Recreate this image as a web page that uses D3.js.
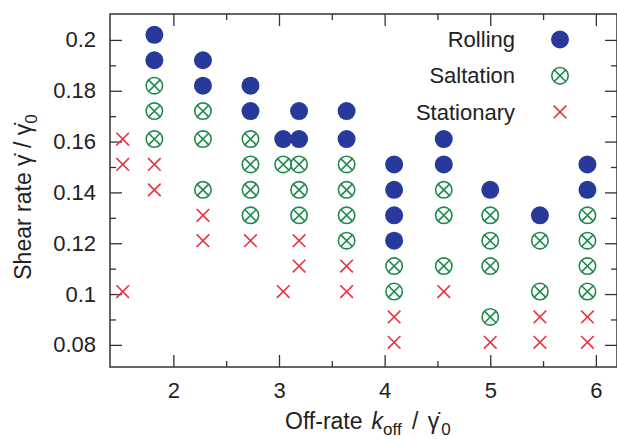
<!DOCTYPE html>
<html>
<head>
<meta charset="utf-8">
<script src="https://cdn.jsdelivr.net/npm/d3@7"></script>
<style>
  body { margin: 0; background: #fff; }
  text { font-family: "Liberation Sans", Arial, sans-serif; fill: #222; }
</style>
</head>
<body>
<div id="graph"></div>
<script>
// off-rate columns (x) and shear rates per column for each regime
const offRate = [1.52, 1.82, 2.28, 2.73, 3.04, 3.19, 3.64, 4.09, 4.56, 5.00, 5.47, 5.92];

const rolling = [
  [], [0.202, 0.192], [0.192, 0.182], [0.182, 0.172], [0.161], [0.172, 0.161],
  [0.172, 0.161], [0.151, 0.141, 0.131, 0.121], [0.161, 0.151], [0.141], [0.131], [0.151, 0.141]
];
const saltation = [
  [], [0.182, 0.172, 0.161], [0.172, 0.161, 0.141], [0.161, 0.151, 0.141, 0.131], [0.151],
  [0.151, 0.141, 0.131], [0.151, 0.141, 0.131, 0.121], [0.111, 0.101], [0.141, 0.131, 0.111],
  [0.131, 0.121, 0.111, 0.091], [0.121, 0.101], [0.131, 0.121, 0.111, 0.101]
];
const stationary = [
  [0.161, 0.151, 0.101], [0.151, 0.141], [0.131, 0.121], [0.121], [0.101], [0.121, 0.111],
  [0.111, 0.101], [0.091, 0.081], [0.101], [0.081], [0.091, 0.081], [0.091, 0.081]
];

const xTicks = [2, 3, 4, 5, 6];
const xMinor = [2.5, 3.5, 4.5, 5.5];
const yTicks = [0.08, 0.1, 0.12, 0.14, 0.16, 0.18, 0.2];
const yMinor = [0.09, 0.11, 0.13, 0.15, 0.17, 0.19];
const legendLabels = ["Rolling", "Saltation", "Stationary"];

const W = 617, H = 439;
const mLeft = 110, mRight = 617, mTop = 14, mBottom = 367;

const svg = d3.select("#graph").append("svg")
  .attr("width", W)
  .attr("height", H);

const x = d3.scaleLinear().domain([1.4, 6.2]).range([mLeft, mRight]);
const y = d3.scaleLinear().domain([0.0713, 0.2102]).range([mBottom, mTop]);

function flat(series) {
  let pts = [];
  series.forEach(function (col, i) {
    col.forEach(function (v) { pts.push([offRate[i], v]); });
  });
  return pts;
}

// axes (ticks point inward, mirrored on top/right)
function styleAxis(g) {
  g.select(".domain").remove();
  g.selectAll(".tick line").attr("stroke", "#333").attr("stroke-width", 1.3);
  g.selectAll(".tick text").style("font-size", "22px").attr("fill", "#222")
    .style("font-family", "'Liberation Sans', Arial, sans-serif");
}
const fmt = function (d) { return String(+d.toFixed(2)); };

svg.append("g").attr("transform", `translate(0,${mBottom})`)
  .call(d3.axisBottom(x).tickValues(xTicks).tickSize(-12).tickPadding(15).tickFormat(fmt))
  .call(styleAxis);
svg.append("g").attr("transform", `translate(0,${mBottom})`)
  .call(d3.axisBottom(x).tickValues(xMinor).tickSize(-6).tickFormat(""))
  .call(styleAxis);
svg.append("g").attr("transform", `translate(0,${mTop})`)
  .call(d3.axisTop(x).tickValues(xTicks).tickSize(-12).tickFormat(""))
  .call(styleAxis);
svg.append("g").attr("transform", `translate(0,${mTop})`)
  .call(d3.axisTop(x).tickValues(xMinor).tickSize(-6).tickFormat(""))
  .call(styleAxis);

svg.append("g").attr("transform", `translate(${mLeft},0)`)
  .call(d3.axisLeft(y).tickValues(yTicks).tickSize(-12).tickPadding(14).tickFormat(fmt))
  .call(styleAxis);
svg.append("g").attr("transform", `translate(${mLeft},0)`)
  .call(d3.axisLeft(y).tickValues(yMinor).tickSize(-6).tickFormat(""))
  .call(styleAxis);
svg.append("g").attr("transform", `translate(${mRight},0)`)
  .call(d3.axisRight(y).tickValues(yTicks).tickSize(-12).tickFormat(""))
  .call(styleAxis);
svg.append("g").attr("transform", `translate(${mRight},0)`)
  .call(d3.axisRight(y).tickValues(yMinor).tickSize(-6).tickFormat(""))
  .call(styleAxis);

// frame
svg.append("rect")
  .attr("x", mLeft).attr("y", mTop)
  .attr("width", mRight - mLeft).attr("height", mBottom - mTop)
  .attr("fill", "none").attr("stroke", "#333").attr("stroke-width", 1.5);

// markers
const blue = "#27399a", green = "#1f8a4c", red = "#e8323c";

function drawRolling(g) {
  g.append("circle").attr("r", 9).attr("fill", blue);
}
function drawSaltation(g) {
  const r = 8.2, k = r * 0.707;
  g.append("circle").attr("r", r).attr("fill", "none").attr("stroke", green).attr("stroke-width", 1.6);
  g.append("path").attr("d", `M${-k},${-k}L${k},${k}M${-k},${k}L${k},${-k}`)
    .attr("stroke", green).attr("stroke-width", 1.6);
}
function drawStationary(g) {
  const s = 6.3;
  g.append("path").attr("d", `M${-s},${-s}L${s},${s}M${-s},${s}L${s},${-s}`)
    .attr("stroke", red).attr("stroke-width", 1.6);
}
const drawers = [drawRolling, drawSaltation, drawStationary];

[rolling, saltation, stationary].forEach(function (series, si) {
  svg.append("g").selectAll("g")
    .data(flat(series))
    .enter().append("g")
    .attr("transform", function (d) { return `translate(${x(d[0])},${y(d[1])})`; })
    .each(function () { drawers[si](d3.select(this)); });
});

// legend
const legend = svg.append("g");
legendLabels.forEach(function (lab, i) {
  const ly = 39.5 + i * 36.2;
  legend.append("text").attr("x", 515).attr("y", ly).attr("dy", "0.35em")
    .attr("text-anchor", "end").style("font-size", "22px").text(lab);
  const m = legend.append("g").attr("transform", `translate(560,${ly})`);
  drawers[i](m);
});

// axis titles
const xl = svg.append("text").attr("x", 285).attr("y", 429).style("font-size", "23px");
xl.append("tspan").text("Off-rate");
xl.append("tspan").attr("dx", 9).style("font-style", "italic").text("k");
xl.append("tspan").attr("dy", 6).style("font-size", "17px").text("off");
xl.append("tspan").attr("dy", -6).attr("dx", 4).text(" / ");
xl.append("tspan").attr("dx", 3).text("\u03b3\u0307");
xl.append("tspan").attr("dy", 6).attr("dx", 2).style("font-size", "17px").text("0");

const yl = svg.append("text")
  .attr("transform", "translate(31,197) rotate(-90)")
  .attr("text-anchor", "middle").style("font-size", "23px");
yl.append("tspan").text("Shear rate ");
yl.append("tspan").text("\u03b3\u0307");
yl.append("tspan").text(" / ");
yl.append("tspan").text("\u03b3\u0307");
yl.append("tspan").attr("dy", 6).style("font-size", "17px").text("0");
</script>
</body>
</html>
